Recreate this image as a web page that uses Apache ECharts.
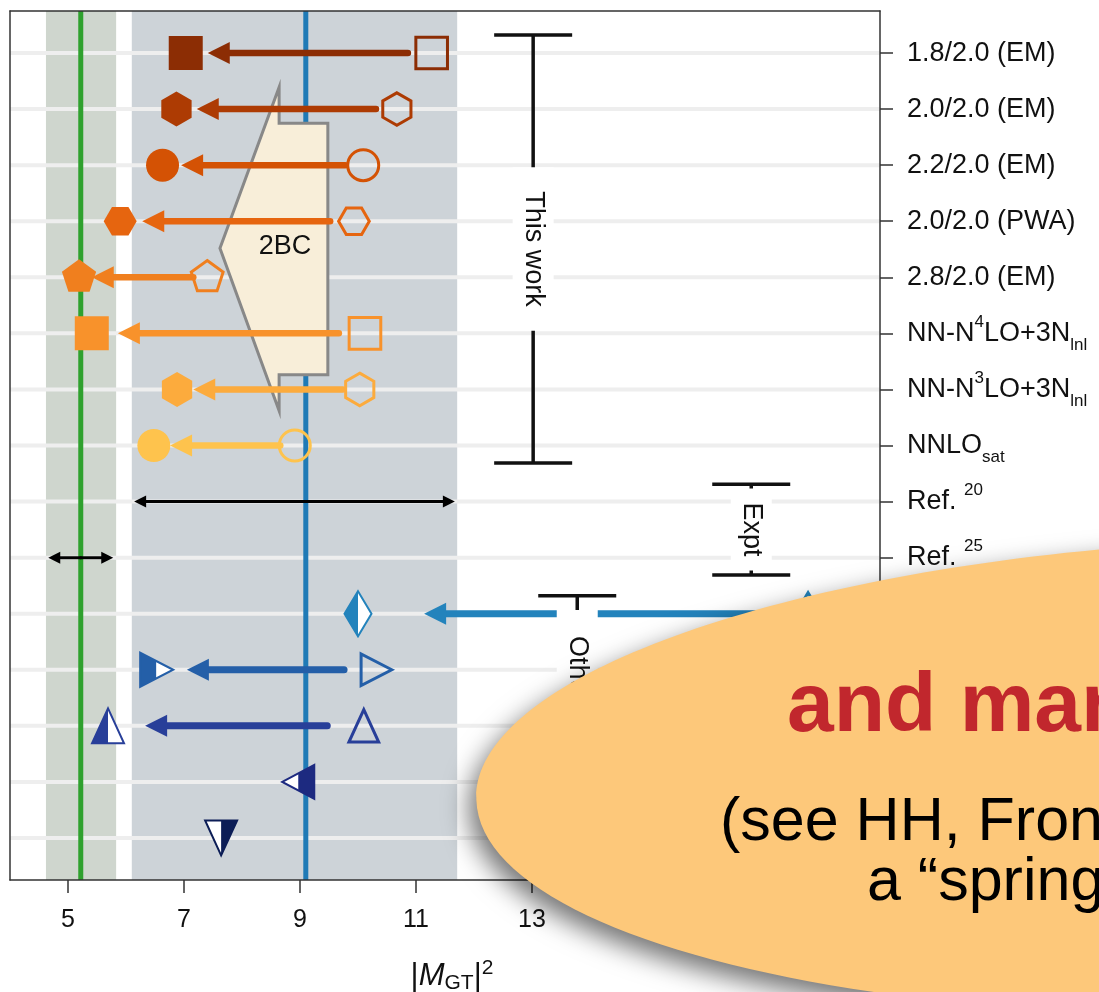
<!DOCTYPE html>
<html>
<head>
<meta charset="utf-8">
<script src="https://cdn.jsdelivr.net/npm/echarts@6/dist/echarts.min.js"></script>
<style>
  html, body { margin: 0; padding: 0; background: #fff; }
  #chart { width: 1099px; height: 992px; }
</style>
</head>
<body>
<div id="chart"></div>
<script>
var FONT = '"Liberation Sans", Arial, Helvetica, sans-serif';

// rows from top to bottom
var rows = [0, 1, 2, 3, 4, 5, 6, 7, 8, 9, 10, 11, 12, 13, 14];
var rowLabels = [
    '1.8/2.0 (EM)', '2.0/2.0 (EM)', '2.2/2.0 (EM)', '2.0/2.0 (PWA)', '2.8/2.0 (EM)',
    'NN-N{sup|4}LO+3N{sub|lnl}', 'NN-N{sup|3}LO+3N{sub|lnl}', 'NNLO{sub|sat}',
    'Ref. {sup|20}', 'Ref. {sup|25}', '', '', '', '', ''
];
var xTicks = [5, 7, 9, 11, 13, 15, 17];

// |M_GT|^2 values per row (null = none)
var filledX = [7.03, 6.87, 6.63, 5.90, 5.19, 5.41, 6.88, 6.48, null, null, 10.00, 6.52, 5.69, 8.97, 7.64];
var openX = [11.27, 10.67, 10.09, 9.93, 7.40, 10.12, 10.03, 8.91, null, null, 17.76, 10.31, 10.10, null, null];
var arrowFrom = [10.86, 10.31, 9.78, 9.52, 7.16, 9.67, 9.74, 8.66, null, null, 17.45, 9.76, 9.47, null, null];
var arrowTo = [7.41, 7.22, 6.95, 6.28, 5.41, 5.86, 7.16, 6.76, null, null, 11.14, 7.05, 6.33, null, null];

// Ref. 20 / Ref. 25 ranges
var refRows = [8, 9];
var refLow = [6.14, 4.66];
var refHigh = [11.67, 5.78];

// shaded bands and lines
var bandLow = [4.62, 6.10];
var bandHigh = [5.83, 11.71];
var lineX = [5.22, 9.10];

// 2BC shape
var bcX = [8.64, 8.64, 9.48, 9.48, 8.64, 8.64, 7.62];
var bcY = [0.61, 1.25, 1.25, 5.74, 5.74, 6.38, 3.48];
var bcLabel = [8.74, 3.46];

// bracket bars
var barLabels = ['This work', 'Expt', 'Other work'];
var barX = [13.02, 16.78, 13.78];
var barLow = [-0.32, 7.69, 9.68];
var barHigh = [7.31, 9.31, 13.47];

var xMin = 4, xMax = 19, yMin = -0.75, yMax = 14.75;

// styles
var rowColors = ['#8c2d04', '#ad3b03', '#d45204', '#e6650f', '#f07f1e', '#f8922b', '#fcab3d', '#fec34d',
    '#000', '#000', '#2383bc', '#245fa8', '#283f99', '#1d2a80', '#0c1d56'];
var rowShapes = ['square', 'hexagon', 'circle', 'hexagon2', 'pentagon', 'square', 'hexagon', 'circle',
    null, null, 'diamond', 'triangle-right', 'triangle-up', 'triangle-left', 'triangle-down'];
var halfSide = [0, 0, 0, 0, 0, 0, 0, 0, 0, 0, -1, -1, -1, 1, 1];
var bandColors = ['#cfd6ce', '#cdd3d8'];
var lineColors = ['#2fa12e', '#1f7ab6'];
var labelPad = [24, 14, 26];

function ngon(n, r, start) {
    var pts = [];
    for (var k = 0; k < n; k++) {
        var a = (start + k * 360 / n) * Math.PI / 180;
        pts.push([r * Math.cos(a), r * Math.sin(a)]);
    }
    return pts;
}
var SHAPES = {
    'square': [[-17, -17], [17, -17], [17, 17], [-17, 17]],
    'hexagon': ngon(6, 17.5, -90),
    'hexagon2': ngon(6, 16.5, 0),
    'pentagon': ngon(5, 18, -90),
    'diamond': [[0, -22.5], [13.5, 0], [0, 22.5], [-13.5, 0]],
    'triangle-up': [[0, -17.5], [16, 17.5], [-16, 17.5]],
    'triangle-down': [[0, 17.5], [-16, -17.5], [16, -17.5]],
    'triangle-right': [[17, 0], [-16, -17], [-16, 17]],
    'triangle-left': [[-16, 0], [16, -17], [16, 17]]
};

// keep the part of a polygon on one side of x = 0
function clipHalf(pts, side) {
    var out = [];
    for (var i = 0; i < pts.length; i++) {
        var a = pts[i], b = pts[(i + 1) % pts.length];
        var ina = side * a[0] >= 0, inb = side * b[0] >= 0;
        if (ina) out.push(a);
        if (ina !== inb) {
            var t = a[0] / (a[0] - b[0]);
            out.push([0, a[1] + t * (b[1] - a[1])]);
        }
    }
    return out;
}

function markerEl(shape, cx, cy, mode, color, side) {
    var s = mode === 'open' ? 0.93 : 1;
    if (shape === 'circle') {
        if (mode === 'open') {
            return { type: 'circle', shape: { cx: cx, cy: cy, r: 15.5 }, style: { fill: 'none', stroke: color, lineWidth: 3 } };
        }
        return { type: 'circle', shape: { cx: cx, cy: cy, r: 16.5 }, style: { fill: color } };
    }
    var pts = SHAPES[shape].map(function (p) { return [p[0] * s, p[1] * s]; });
    var abs = function (arr) { return arr.map(function (p) { return [cx + p[0], cy + p[1]]; }); };
    if (mode === 'open') {
        return { type: 'polygon', shape: { points: abs(pts) }, style: { fill: 'none', stroke: color, lineWidth: 3 } };
    }
    if (!side) {
        return { type: 'polygon', shape: { points: abs(pts) }, style: { fill: color } };
    }
    return {
        type: 'group',
        children: [
            { type: 'polygon', shape: { points: abs(pts) }, style: { fill: '#fff' } },
            { type: 'polygon', shape: { points: abs(clipHalf(pts, side)) }, style: { fill: color } },
            { type: 'polygon', shape: { points: abs(pts) }, style: { fill: 'none', stroke: color, lineWidth: 2 } }
        ]
    };
}

function arrowEls(p0, p1, headLen, headHalf, width, color) {
    var dir = p0[0] > p1[0] ? 1 : -1;
    var bx = p1[0] + dir * headLen;
    return [
        { type: 'line', shape: { x1: p0[0], y1: p0[1], x2: bx - dir * 1, y2: p1[1] }, style: { stroke: color, lineWidth: width, lineCap: 'round' } },
        { type: 'polygon', shape: { points: [[p1[0], p1[1]], [bx, p1[1] - headHalf], [bx, p1[1] + headHalf]] }, style: { fill: color } }
    ];
}

function pick(arr) {
    var out = [];
    rows.forEach(function (r) { if (arr[r] != null) out.push([arr[r], r]); });
    return out;
}

var chart = echarts.init(document.getElementById('chart'));

var option = {
    animation: false,
    backgroundColor: '#fff',
    grid: { left: 10, right: 219, top: 11, bottom: 112, containLabel: false, outerBoundsMode: 'none' },
    xAxis: [{
        type: 'value', min: xMin, max: xMax, position: 'bottom', z: 10,
        axisLine: { show: true, onZero: false, lineStyle: { color: '#333', width: 1.5 } },
        axisTick: { show: true, customValues: xTicks, length: 13, lineStyle: { color: '#333', width: 1.5 } },
        axisLabel: { customValues: xTicks, fontSize: 25, color: '#111', fontFamily: FONT, margin: 28 },
        splitLine: { show: false },
        name: '|{i|M}{sub|GT}|{sup|2}',
        nameLocation: 'middle',
        nameGap: 78,
        nameTextStyle: {
            fontSize: 31, fontFamily: FONT, color: '#111', lineHeight: 36, padding: [0, 0, 0, 14],
            rich: {
                i: { fontSize: 31, fontFamily: FONT, color: '#111', fontStyle: 'italic', lineHeight: 36 },
                sub: { fontSize: 21, fontFamily: FONT, color: '#111', verticalAlign: 'bottom', lineHeight: 18 },
                sup: { fontSize: 21, fontFamily: FONT, color: '#111', verticalAlign: 'top', lineHeight: 20 }
            }
        }
    }, {
        type: 'value', min: xMin, max: xMax, position: 'top', z: 10,
        axisLine: { show: true, onZero: false, lineStyle: { color: '#333', width: 1.5 } },
        axisTick: { show: false }, axisLabel: { show: false }, splitLine: { show: false }
    }],
    yAxis: [{
        type: 'value', min: yMin, max: yMax, inverse: true, position: 'right', z: 10,
        axisLine: { show: true, onZero: false, lineStyle: { color: '#333', width: 1.5 } },
        axisTick: { show: true, customValues: rows, length: 13, lineStyle: { color: '#333', width: 1.5 } },
        axisLabel: {
            customValues: rows,
            formatter: function (v) { return rowLabels[Math.round(v)] || ''; },
            fontSize: 27, color: '#111', fontFamily: FONT, margin: 27, lineHeight: 40,
            rich: {
                sup: { fontSize: 17, fontFamily: FONT, color: '#111', verticalAlign: 'top', lineHeight: 24 },
                sub: { fontSize: 17, fontFamily: FONT, color: '#111', verticalAlign: 'bottom', lineHeight: 20 }
            }
        },
        splitLine: { show: false }
    }, {
        type: 'value', min: yMin, max: yMax, inverse: true, position: 'left', z: 10,
        axisLine: { show: true, onZero: false, lineStyle: { color: '#333', width: 1.5 } },
        axisTick: { show: false }, axisLabel: { show: false }, splitLine: { show: false }
    }],
    series: [
        // shaded bands
        {
            type: 'custom', z: 1, silent: true,
            data: bandLow.map(function (v, i) { return [v, bandHigh[i]]; }),
            renderItem: function (params, api) {
                var p0 = api.coord([api.value(0), yMin]);
                var p1 = api.coord([api.value(1), yMax]);
                return {
                    type: 'rect',
                    shape: { x: p0[0], y: Math.min(p0[1], p1[1]), width: p1[0] - p0[0], height: Math.abs(p1[1] - p0[1]) },
                    style: { fill: bandColors[params.dataIndex] }
                };
            }
        },
        // row grid lines
        {
            type: 'custom', z: 2, silent: true,
            data: rows.map(function (r) { return [xMin, r]; }),
            renderItem: function (params, api) {
                var p0 = api.coord([xMin, api.value(1)]);
                var p1 = api.coord([xMax, api.value(1)]);
                return { type: 'line', shape: { x1: p0[0], y1: p0[1], x2: p1[0], y2: p1[1] }, style: { stroke: '#eeeeee', lineWidth: 4 } };
            }
        },
        // vertical lines
        {
            type: 'custom', z: 3, silent: true,
            data: lineX.map(function (v) { return [v, 0]; }),
            renderItem: function (params, api) {
                var p0 = api.coord([api.value(0), yMin]);
                var p1 = api.coord([api.value(0), yMax]);
                return { type: 'line', shape: { x1: p0[0], y1: p0[1], x2: p1[0], y2: p1[1] }, style: { stroke: lineColors[params.dataIndex], lineWidth: 5 } };
            }
        },
        // 2BC shape
        {
            type: 'custom', z: 4, silent: true,
            data: [[bcX[0], bcY[0]]],
            renderItem: function (params, api) {
                var pts = bcX.map(function (x, i) { return api.coord([x, bcY[i]]); });
                var c = api.coord(bcLabel);
                return {
                    type: 'group',
                    children: [
                        { type: 'polygon', shape: { points: pts }, style: { fill: '#f8eed9', stroke: '#888', lineWidth: 3, lineJoin: 'miter' } },
                        { type: 'text', x: c[0], y: c[1], style: { text: '2BC', fontSize: 27, fontFamily: FONT, fill: '#111', align: 'center', verticalAlign: 'middle' } }
                    ]
                };
            }
        },
        // Ref ranges
        {
            type: 'custom', z: 5, silent: true,
            data: refRows.map(function (r, i) { return [refLow[i], r, refHigh[i]]; }),
            renderItem: function (params, api) {
                var a = api.coord([api.value(0), api.value(1)]);
                var b = api.coord([api.value(2), api.value(1)]);
                var mid = [(a[0] + b[0]) / 2, a[1]];
                return { type: 'group', children: arrowEls(mid, a, 12, 6, 3, '#000').concat(arrowEls(mid, b, 12, 6, 3, '#000')) };
            }
        },
        // arrows
        {
            type: 'custom', z: 5, silent: true,
            data: rows.filter(function (r) { return arrowFrom[r] != null; }).map(function (r) { return [arrowFrom[r], r, arrowTo[r]]; }),
            renderItem: function (params, api) {
                var r = api.value(1);
                var p0 = api.coord([api.value(0), r]);
                var p1 = api.coord([api.value(2), r]);
                return { type: 'group', children: arrowEls(p0, p1, 22, 11, r >= 10 ? 7 : 6.5, rowColors[r]) };
            }
        },
        // open markers
        {
            type: 'custom', z: 6, silent: true,
            data: pick(openX),
            renderItem: function (params, api) {
                var r = api.value(1);
                var p = api.coord([api.value(0), r]);
                return markerEl(rowShapes[r], p[0], p[1], 'open', rowColors[r], 0);
            }
        },
        // filled / half filled markers
        {
            type: 'custom', z: 6, silent: true,
            data: pick(filledX),
            renderItem: function (params, api) {
                var r = api.value(1);
                var p = api.coord([api.value(0), r]);
                return markerEl(rowShapes[r], p[0], p[1], 'filled', rowColors[r], halfSide[r]);
            }
        },
        // bracket bars with labels
        {
            type: 'custom', z: 7, silent: true,
            data: barX.map(function (x, i) { return [x, barLow[i], barHigh[i]]; }),
            renderItem: function (params, api) {
                var i = params.dataIndex;
                var t = api.coord([api.value(0), api.value(1)]);
                var b = api.coord([api.value(0), api.value(2)]);
                var w = 39;
                var st = { stroke: '#111', lineWidth: 3.5 };
                return {
                    type: 'group',
                    children: [
                        { type: 'line', shape: { x1: t[0], y1: t[1], x2: b[0], y2: b[1] }, style: st },
                        { type: 'line', shape: { x1: t[0] - w, y1: t[1], x2: t[0] + w, y2: t[1] }, style: st },
                        { type: 'line', shape: { x1: b[0] - w, y1: b[1], x2: b[0] + w, y2: b[1] }, style: st },
                        {
                            type: 'text', x: t[0], y: (t[1] + b[1]) / 2, rotation: -Math.PI / 2,
                            style: {
                                text: barLabels[i], fontSize: 27, fontFamily: FONT, fill: '#111',
                                align: 'center', verticalAlign: 'middle',
                                backgroundColor: '#fff', padding: [7, labelPad[i], 7, labelPad[i]]
                            }
                        }
                    ]
                };
            }
        }
    ],
    graphic: [
        {
            type: 'ellipse', z: 100,
            x: 1276, y: 776, rotation: 0.03,
            shape: { cx: 0, cy: 0, rx: 800, ry: 237 },
            style: { fill: '#fdc87a', shadowBlur: 26, shadowColor: 'rgba(0,0,0,0.55)', shadowOffsetX: -7, shadowOffsetY: 11 }
        },
        {
            type: 'text', z: 101, x: 787, y: 708,
            style: { text: 'and many more', fontSize: 84, fontWeight: 'bold', fontFamily: FONT, fill: '#c1272d', align: 'left', verticalAlign: 'middle' }
        },
        {
            type: 'text', z: 101, x: 720, y: 823,
            style: { text: '(see HH, Front. Phys. 2020:', fontSize: 61, fontFamily: FONT, fill: '#000', align: 'left', verticalAlign: 'middle' }
        },
        {
            type: 'text', z: 101, x: 867, y: 883,
            style: { text: 'a \u201cspring cleaning\u201d)', fontSize: 61, fontFamily: FONT, fill: '#000', align: 'left', verticalAlign: 'middle' }
        }
    ]
};

chart.setOption(option);
</script>
</body>
</html>
